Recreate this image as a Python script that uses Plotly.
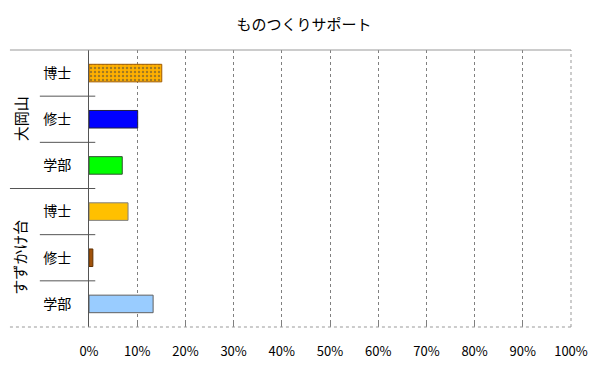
import plotly.graph_objects as go

title = "ものつくりサポート"
campuses = ["大岡山", "大岡山", "大岡山", "すずかけ台", "すずかけ台", "すずかけ台"]
degrees = ["博士", "修士", "学部", "博士", "修士", "学部"]
values = [15.1, 10.1, 6.9, 8.1, 0.8, 13.3]
bar_colors = ["#FFB000", "#0000FF", "#00FF00", "#FFC000", "#A0520A", "#99CCFF"]
line_colors = ["#A05A00", "#202040", "#305030", "#808080", "#603000", "#606060"]
x_ticks = [0, 10, 20, 30, 40, 50, 60, 70, 80, 90, 100]

FONT = "Noto Sans CJK JP"
keys = [f"{c}|{d}" for c, d in zip(campuses, degrees)]

fig = go.Figure()
fig.add_trace(go.Bar(
    x=values, y=keys, orientation="h",
    marker=dict(
        color=bar_colors,
        line=dict(color=line_colors, width=1),
        pattern=dict(
            shape=["." , "", "", "", "", ""],
            fgcolor="#6A3A00", bgcolor="#FFB000", size=4, solidity=0.3,
        ),
    ),
    width=0.38,
    hoverinfo="x+y",
))

shapes = []
# frame lines
shapes.append(dict(type="line", xref="paper", yref="paper", x0=-0.164, x1=1, y0=1, y1=1,
                   line=dict(color="#999999", width=1)))
shapes.append(dict(type="line", xref="paper", yref="paper", x0=-0.164, x1=1, y0=0, y1=0,
                   line=dict(color="#999999", width=1, dash="dot")))
shapes.append(dict(type="line", xref="paper", yref="paper", x0=1, x1=1, y0=0, y1=1,
                   line=dict(color="#999999", width=1, dash="dot")))
# category dividers
for i in range(len(keys) - 1):
    group_change = campuses[i] != campuses[i + 1]
    shapes.append(dict(type="line", xref="paper", yref="y",
                       x0=-0.164 if group_change else -0.102, x1=0.013,
                       y0=i + 0.5, y1=i + 0.5,
                       line=dict(color="#555555", width=1)))

annotations = []
groups = []
for i, c in enumerate(campuses):
    if not groups or groups[-1][0] != c:
        groups.append([c, i, i])
    else:
        groups[-1][2] = i
for name, a, b in groups:
    annotations.append(dict(text=name, xref="paper", yref="y", x=-0.143, y=(a + b) / 2,
                            xanchor="center", yanchor="middle",
                            textangle=-90, showarrow=False,
                            font=dict(family=FONT, size=15, color="#000000")))

# page body has an 8px default margin, so the figure is sized to fit the window
fig.update_layout(
    width=592, height=364,
    margin=dict(l=81, r=29, t=42, b=45, autoexpand=False),
    paper_bgcolor="white", plot_bgcolor="white",
    title=dict(text=title, x=0.5, xanchor="center", y=0.953, yanchor="middle",
               font=dict(family=FONT, size=15, color="#000000")),
    showlegend=False,
    shapes=shapes,
    annotations=annotations,
    xaxis=dict(
        range=[0, 100], tickvals=x_ticks, ticktext=[f"{t}%" for t in x_ticks],
        showgrid=True, gridcolor="#808080", griddash="dot", gridwidth=1,
        ticks="inside", ticklen=4, tickcolor="#808080",
        zeroline=False, showline=False,
        ticklabelstandoff=15, automargin=False,
        tickfont=dict(family=FONT, size=13, color="#000000"),
        fixedrange=True,
    ),
    yaxis=dict(
        type="category", categoryorder="array", categoryarray=keys,
        tickvals=keys, ticktext=degrees,
        autorange="reversed",
        showline=True, linecolor="#555555", linewidth=1,
        showgrid=False, ticks="", ticklabelstandoff=14, automargin=False,
        tickfont=dict(family=FONT, size=14, color="#000000"),
        fixedrange=True,
    ),
)

fig.write_html("out.html")
